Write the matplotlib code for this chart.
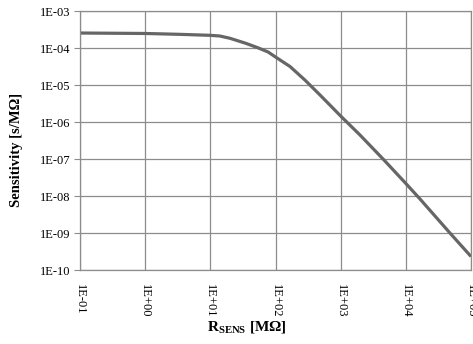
import matplotlib
matplotlib.use("Agg")
import matplotlib.pyplot as plt
import numpy as np

r_sens = [0.1, 1, 3.4, 10, 14, 20, 35, 54, 77, 100, 167, 283, 482, 1000,
          1980, 4620, 10000, 16500, 47500, 100000]
sensitivity = [2.54e-4, 2.47e-4, 2.34e-4, 2.2e-4, 2.11e-4, 1.83e-4, 1.34e-4, 1.01e-4,
               7.8e-5, 5.71e-5, 3.16e-5, 1.36e-5, 5.37e-6, 1.45e-6,
               4.45e-7, 9.4e-8, 2.18e-8, 8.3e-9, 1.0e-9, 2.32e-10]
x_ticks = [1e-1, 1e0, 1e1, 1e2, 1e3, 1e4, 1e5]
x_labels = ["1E-01", "1E+00", "1E+01", "1E+02", "1E+03", "1E+04", "1E+05"]
y_ticks = [1e-10, 1e-9, 1e-8, 1e-7, 1e-6, 1e-5, 1e-4, 1e-3]
y_labels = ["1E-10", "1E-09", "1E-08", "1E-07", "1E-06", "1E-05", "1E-04", "1E-03"]

plt.rcParams['font.family'] = ['Liberation Serif', 'DejaVu Serif']
plt.rcParams['mathtext.fontset'] = 'custom'
plt.rcParams['mathtext.rm'] = 'Liberation Serif'
plt.rcParams['mathtext.bf'] = 'Liberation Serif:bold'
plt.rcParams['mathtext.it'] = 'Liberation Serif:italic'

fig = plt.figure(figsize=(4.73, 3.44), dpi=100)
ax = fig.add_axes([80/473, 1-270/344, (471-80)/473, (270-11)/344])

ax.plot(r_sens, sensitivity, color="#666666", lw=2.3, solid_capstyle="butt",
        solid_joinstyle="round")
ax.set_xscale("log")
ax.set_yscale("log")
ax.set_xlim(1e-1, 1e5)
ax.set_ylim(1e-10, 1e-3)
ax.set_xticks(x_ticks)
ax.set_xticklabels(x_labels, rotation=-90, fontsize=9, va="top")
ax.set_yticks(y_ticks)
ax.set_yticklabels(y_labels, fontsize=9)
ax.minorticks_off()
ax.grid(True, color="#8c8c8c", lw=0.9)
ax.set_axisbelow(True)
for s in ax.spines.values():
    s.set_color("#8c8c8c")
    s.set_linewidth(0.9)
ax.tick_params(axis="y", length=4, color="#8c8c8c", pad=3)
ax.tick_params(axis="x", length=0, pad=10)

fig.text(17/473, 1-150/344, "Sensitivity [s/MΩ]", rotation=90, fontsize=10.5,
         fontweight="bold", ha="center", va="center")
fig.text(247/473, 1-327/344, r"R$_{\mathbf{SENS}}$ [MΩ]", fontsize=11,
         fontweight="bold", ha="center", va="center")

fig.savefig("out.png", dpi=100)
